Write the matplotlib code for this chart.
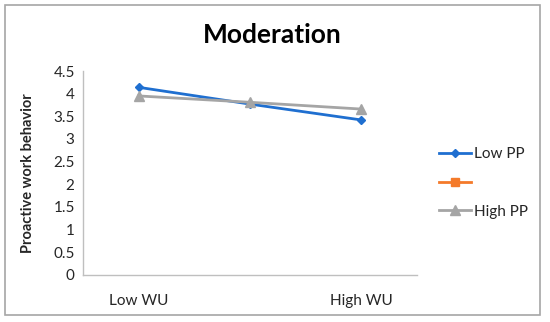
import matplotlib
matplotlib.use('Agg')
import matplotlib.pyplot as plt
import numpy as np
from matplotlib.patches import Rectangle

# datos
categorias = ['Low WU', '', 'High WU']
low_pp = [4.14, 3.77, 3.42]
serie2 = [np.nan, np.nan, np.nan]
high_pp = [3.95, 3.81, 3.66]
nombres = ['Low PP', '', 'High PP']

plt.rcParams['font.family'] = ['Lato', 'DejaVu Sans']

fig = plt.figure(figsize=(5.5, 3.22), dpi=100)
W, H = 550, 322
ax = fig.add_axes([83/W, 1-275/H, (417-83)/W, (275-71)/H])

x = np.arange(len(categorias))
l1, = ax.plot(x, low_pp, color='#1f6fd0', lw=2, marker='D', ms=4.5)
l2, = ax.plot(x, serie2, color='#f47a2a', lw=2, marker='s', ms=6)
l3, = ax.plot(x, high_pp, color='#a5a5a5', lw=2, marker='^', ms=6.5)

ax.set_xlim(-0.5, 2.5)
ax.set_ylim(0, 4.5)
ax.set_yticks(np.arange(0, 4.51, 0.5))
ax.set_yticklabels(['0', '0.5', '1', '1.5', '2', '2.5', '3', '3.5', '4', '4.5'])
ax.set_xticks(x)
ax.set_xticklabels(categorias)
ax.tick_params(length=0, labelsize=11, colors='#262626', pad=6)
ax.tick_params(axis='x', pad=14)
for s in ['top', 'right']:
    ax.spines[s].set_visible(False)
for s in ['left', 'bottom']:
    ax.spines[s].set_color('#bfbfbf')
    ax.spines[s].set_linewidth(1)
ax.set_ylabel('Proactive work behavior', fontsize=10.5, fontweight='bold', color='#262626')
ax.yaxis.set_label_coords((35-83)/(417-83), 0.5)

fig.text(272.5/W, 1-35/H, 'Moderation', ha='center', va='center', fontsize=19, fontweight='bold')

leg = fig.legend([l1, l2, l3], nombres, loc='center left', bbox_to_anchor=(433/W, 1-183/H),
                 frameon=False, fontsize=11, handlelength=2.1, labelspacing=0.95,
                 handletextpad=0.2, borderaxespad=0)
for t in leg.get_texts():
    t.set_color('#262626')

fig.patches.append(Rectangle((5/W, 1-315/H), (540-5)/W, (315-5)/H, transform=fig.transFigure,
                             fill=False, edgecolor='#a6a6a6', lw=1.2))

plt.savefig('out.png', dpi=100)
